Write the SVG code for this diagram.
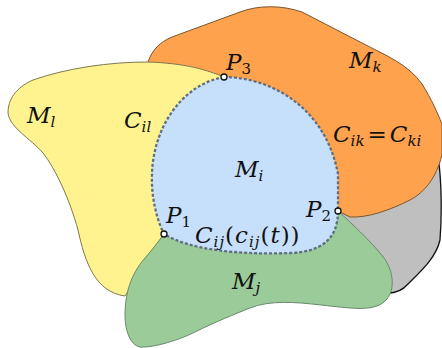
<svg xmlns="http://www.w3.org/2000/svg" width="442" height="348" viewBox="0 0 442 348">
<style>
  .lbl { font-family: "DejaVu Serif", "Liberation Serif", serif; font-style: italic; font-size: 23px; fill: #111; }
  .sub { font-size: 15px; }
  .up { font-style: normal; }
  .pt { fill: #fff; stroke: #111; stroke-width: 1.3; }
</style>
<rect width="442" height="348" fill="#fff"/>
<g id="region-grey">
  <path d="M320,190 L436,148 C442,170 442,215 440,240 C436,258 420,272 408,284 C402,291 396,293 388,293 L365,270 Z" fill="#bfbfbf" stroke="#111" stroke-width="1.3"/>
</g>
<g id="region-Mk">
  <path d="M140,75 L148,62 C152,50 160,42 172,37 L240,12 C258,5 282,5 302,12 L362,43 C385,55 408,64 422,84 C432,100 437,112 442,124 L442,155 C436,178 425,192 410,200 C390,210 368,218 350,217 L338,211 L300,150 Z" fill="#ffa24e" stroke="#7a5530" stroke-width="1"/>
</g>
<g id="region-Ml">
  <path d="M224,77 C207,70 185,63 147,62 C110,62 67,68 33,80 C15,88 8,100 8,113 C10,128 30,138 43,153 C55,168 70,200 78,230 C85,262 95,292 125,296 L164,234 L200,120 Z" fill="#fff38f" stroke="#7d7850" stroke-width="1"/>
</g>
<g id="region-Mj">
  <path d="M164,234 L338,211 C350,222 370,240 384,258 C394,272 396,292 384,302 C372,312 350,308 321,305 C295,302 270,300 250,308 C235,314 215,322 195,332 C175,342 150,348 140,347 C130,345 125,330 125,315 C125,295 130,275 145,258 C152,250 158,242 164,234 Z" fill="#9acb98" stroke="#66896a" stroke-width="1"/>
</g>
<g id="region-Mi">
  <path d="M224,77 C268,77 325,105 338,174 L338,211 C338,240 320,252 290,253 C240,255 190,250 164,234 C156,218 151,195 152,174 C153,130 180,85 224,77 Z" fill="#c6e0fc" stroke="#5f6e80" stroke-width="2.3" stroke-dasharray="3 2"/>
</g>
<g id="points">
  <circle id="P1" class="pt" cx="164" cy="234" r="3"/>
  <circle id="P2" class="pt" cx="338" cy="211" r="3"/>
  <circle id="P3" class="pt" cx="224" cy="77" r="3"/>
</g>
<g id="labels">
  <text class="lbl" x="226" y="70">P<tspan class="sub up" dy="4">3</tspan></text>
  <text class="lbl" x="349" y="68">M<tspan class="sub" dy="4">k</tspan></text>
  <text class="lbl" x="27" y="123">M<tspan class="sub" dy="4">l</tspan></text>
  <text class="lbl" x="124" y="128">C<tspan class="sub" dy="4">il</tspan></text>
  <text class="lbl" x="235" y="177">M<tspan class="sub" dy="4">i</tspan></text>
  <text class="lbl" x="333" y="142">C<tspan class="sub" dy="4">ik</tspan><tspan class="up" dx="3" dy="-4">=</tspan><tspan dx="3">C</tspan><tspan class="sub" dy="4">ki</tspan></text>
  <text class="lbl" x="306" y="217">P<tspan class="sub up" dy="4">2</tspan></text>
  <text class="lbl" x="166" y="223">P<tspan class="sub up" dy="4">1</tspan></text>
  <text class="lbl" x="195" y="243" letter-spacing="1">C<tspan class="sub" dy="4">ij</tspan><tspan class="up" dy="-4">(</tspan>c<tspan class="sub" dy="4">ij</tspan><tspan class="up" dy="-4">(</tspan>t<tspan class="up">))</tspan></text>
  <text class="lbl" x="232" y="289">M<tspan class="sub" dy="4">j</tspan></text>
</g>
</svg>
